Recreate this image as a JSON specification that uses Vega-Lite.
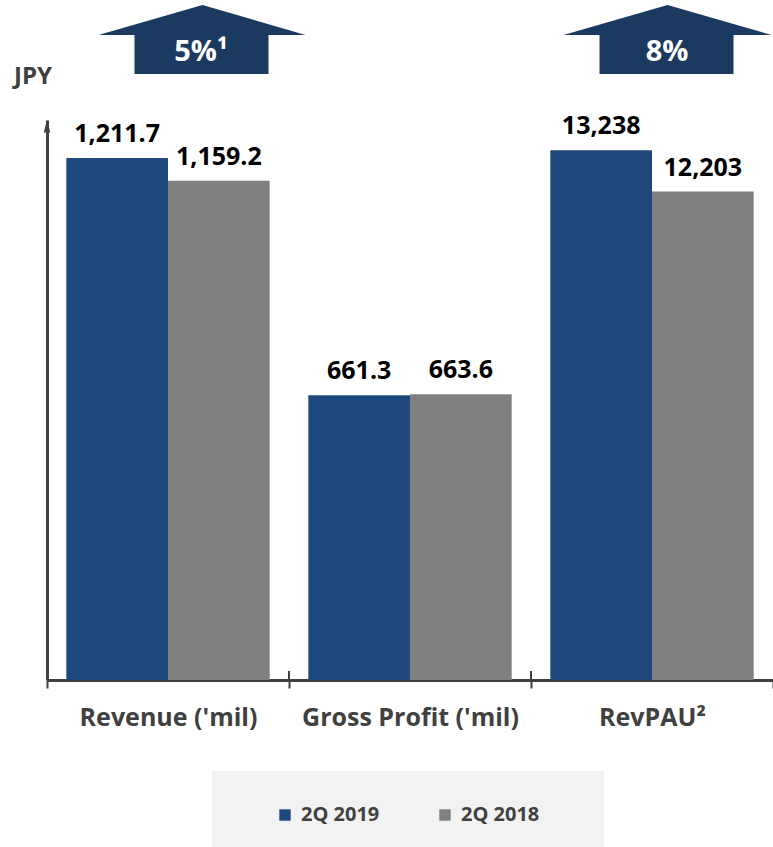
{
  "$schema": "https://vega.github.io/schema/vega-lite/v6.json",
  "width": 726,
  "height": 560,
  "autosize": {"type": "none"},
  "padding": {"left": 47, "top": 120, "right": 0, "bottom": 167},
  "background": "white",
  "config": {"view": {"stroke": null}, "font": "Open Sans"},
  "datasets": {
    "bars": [
      {"group": "Revenue ('mil)", "period": "2Q 2019", "value": 1211.7, "bar": 1211.7, "label": "1,211.7"},
      {"group": "Revenue ('mil)", "period": "2Q 2018", "value": 1159.2, "bar": 1159.2, "label": "1,159.2"},
      {"group": "Gross Profit ('mil)", "period": "2Q 2019", "value": 661.3, "bar": 661.3, "label": "661.3"},
      {"group": "Gross Profit ('mil)", "period": "2Q 2018", "value": 663.6, "bar": 663.6, "label": "663.6"},
      {"group": "RevPAU²", "period": "2Q 2019", "value": 13238, "bar": 1230, "label": "13,238"},
      {"group": "RevPAU²", "period": "2Q 2018", "value": 12203, "bar": 1134, "label": "12,203"}
    ],
    "arrows": [
      {"group": "Revenue ('mil)", "change": "5%¹"},
      {"group": "RevPAU²", "change": "8%"}
    ]
  },
  "layer": [
    {
      "data": {"name": "bars"},
      "mark": {"type": "bar"},
      "encoding": {
        "x": {
          "field": "group", "type": "nominal",
          "scale": {"domain": ["Revenue ('mil)", "Gross Profit ('mil)", "RevPAU²"], "paddingInner": 0, "paddingOuter": 0},
          "axis": {
            "title": null, "labelAngle": 0, "domain": true, "domainColor": "#404040", "domainWidth": 3,
            "ticks": true, "tickBand": "extent", "tickColor": "#404040", "tickWidth": 2, "tickSize": 8,
            "labelFont": "Open Sans", "labelFontWeight": "bold", "labelFontSize": 25, "labelColor": "#404040",
            "labelPadding": 17, "labelLimit": 400, "grid": false
          }
        },
        "xOffset": {
          "field": "period", "type": "nominal",
          "scale": {"domain": ["2Q 2019", "2Q 2018"], "paddingInner": 0, "paddingOuter": 0.19}
        },
        "y": {
          "field": "bar", "type": "quantitative",
          "scale": {"domain": [0, 1300], "nice": false, "zero": true},
          "axis": {
            "title": "JPY", "titleAngle": 0, "titleX": -14.5, "titleY": -37, "titleAlign": "center",
            "titleBaseline": "alphabetic", "titleFont": "Open Sans", "titleFontWeight": "bold",
            "titleFontSize": 24, "titleColor": "#404040",
            "domain": true, "domainColor": "#404040", "domainWidth": 3,
            "ticks": false, "labels": false, "grid": false
          }
        },
        "color": {
          "field": "period", "type": "nominal",
          "scale": {"domain": ["2Q 2019", "2Q 2018"], "range": ["#1F497D", "#808080"]},
          "legend": {
            "title": "\u00a0", "titleOrient": "left", "titlePadding": 29, "titleFontSize": 20,
            "orient": "none", "legendX": 165, "legendY": 651, "direction": "horizontal",
            "fillColor": "#f2f2f2", "padding": 34,
            "symbolType": "square", "symbolSize": 130, "symbolStrokeWidth": 0,
            "labelFont": "Open Sans", "labelFontWeight": "bold", "labelFontSize": 20, "labelColor": "#404040",
            "labelOffset": 6, "columnPadding": 55,
            "labelExpr": "datum.label == '2Q 2018' ? datum.label + '\u2800\u2800' : datum.label"
          }
        }
      }
    },
    {
      "data": {"name": "bars"},
      "mark": {"type": "text", "baseline": "alphabetic", "dy": -16, "font": "Open Sans", "fontWeight": "bold", "fontSize": 25, "color": "#000000"},
      "encoding": {
        "x": {"field": "group", "type": "nominal"},
        "xOffset": {"field": "period", "type": "nominal"},
        "y": {"field": "bar", "type": "quantitative"},
        "text": {"field": "label"}
      }
    },
    {
      "data": {"name": "bars"},
      "mark": {"type": "rule", "color": "#404040", "strokeWidth": 2},
      "encoding": {
        "x": {"field": "group", "type": "nominal", "bandPosition": 0},
        "y": {"datum": 0},
        "y2": {"datum": 21}
      }
    },
    {
      "data": {"name": "arrows"},
      "transform": [{"filter": "datum.change == '8%'"}],
      "mark": {"type": "point", "shape": "M0,-1L0.5,1L-0.5,1Z", "size": 169, "filled": true, "color": "#404040", "opacity": 1},
      "encoding": {
        "x": {"datum": "Revenue ('mil)", "bandPosition": 0},
        "y": {"datum": 1286}
      }
    },
    {
      "data": {"name": "arrows"},
      "transform": [{"filter": "datum.group == \"Revenue ('mil)\""}],
      "mark": {"type": "point", "shape": "M0.345,-0.34L1.375,-0.04L1.005,-0.04L1.005,0.35L-0.335,0.35L-0.335,-0.04L-0.695,-0.04Z", "size": 40000, "filled": true, "color": "#1B3A5F", "opacity": 1},
      "encoding": {
        "x": {"field": "group", "type": "nominal"},
        "y": {"datum": 1488}
      }
    },
    {
      "data": {"name": "arrows"},
      "transform": [{"filter": "datum.group == 'RevPAU²'"}],
      "mark": {"type": "point", "shape": "M0.155,-0.34L1.195,-0.04L0.815,-0.04L0.815,0.35L-0.525,0.35L-0.525,-0.04L-0.885,-0.04Z", "size": 40000, "filled": true, "color": "#1B3A5F", "opacity": 1},
      "encoding": {
        "x": {"field": "group", "type": "nominal"},
        "y": {"datum": 1488}
      }
    },
    {
      "data": {"name": "arrows"},
      "transform": [{"filter": "datum.group == \"Revenue ('mil)\""}],
      "mark": {"type": "text", "dx": 33, "baseline": "alphabetic", "font": "Open Sans", "fontWeight": "bold", "fontSize": 29, "color": "white"},
      "encoding": {
        "x": {"field": "group", "type": "nominal"},
        "y": {"datum": 1437},
        "text": {"field": "change"}
      }
    },
    {
      "data": {"name": "arrows"},
      "transform": [{"filter": "datum.group == 'RevPAU²'"}],
      "mark": {"type": "text", "dx": 15, "baseline": "alphabetic", "font": "Open Sans", "fontWeight": "bold", "fontSize": 29, "color": "white"},
      "encoding": {
        "x": {"field": "group", "type": "nominal"},
        "y": {"datum": 1437},
        "text": {"field": "change"}
      }
    }
  ]
}
